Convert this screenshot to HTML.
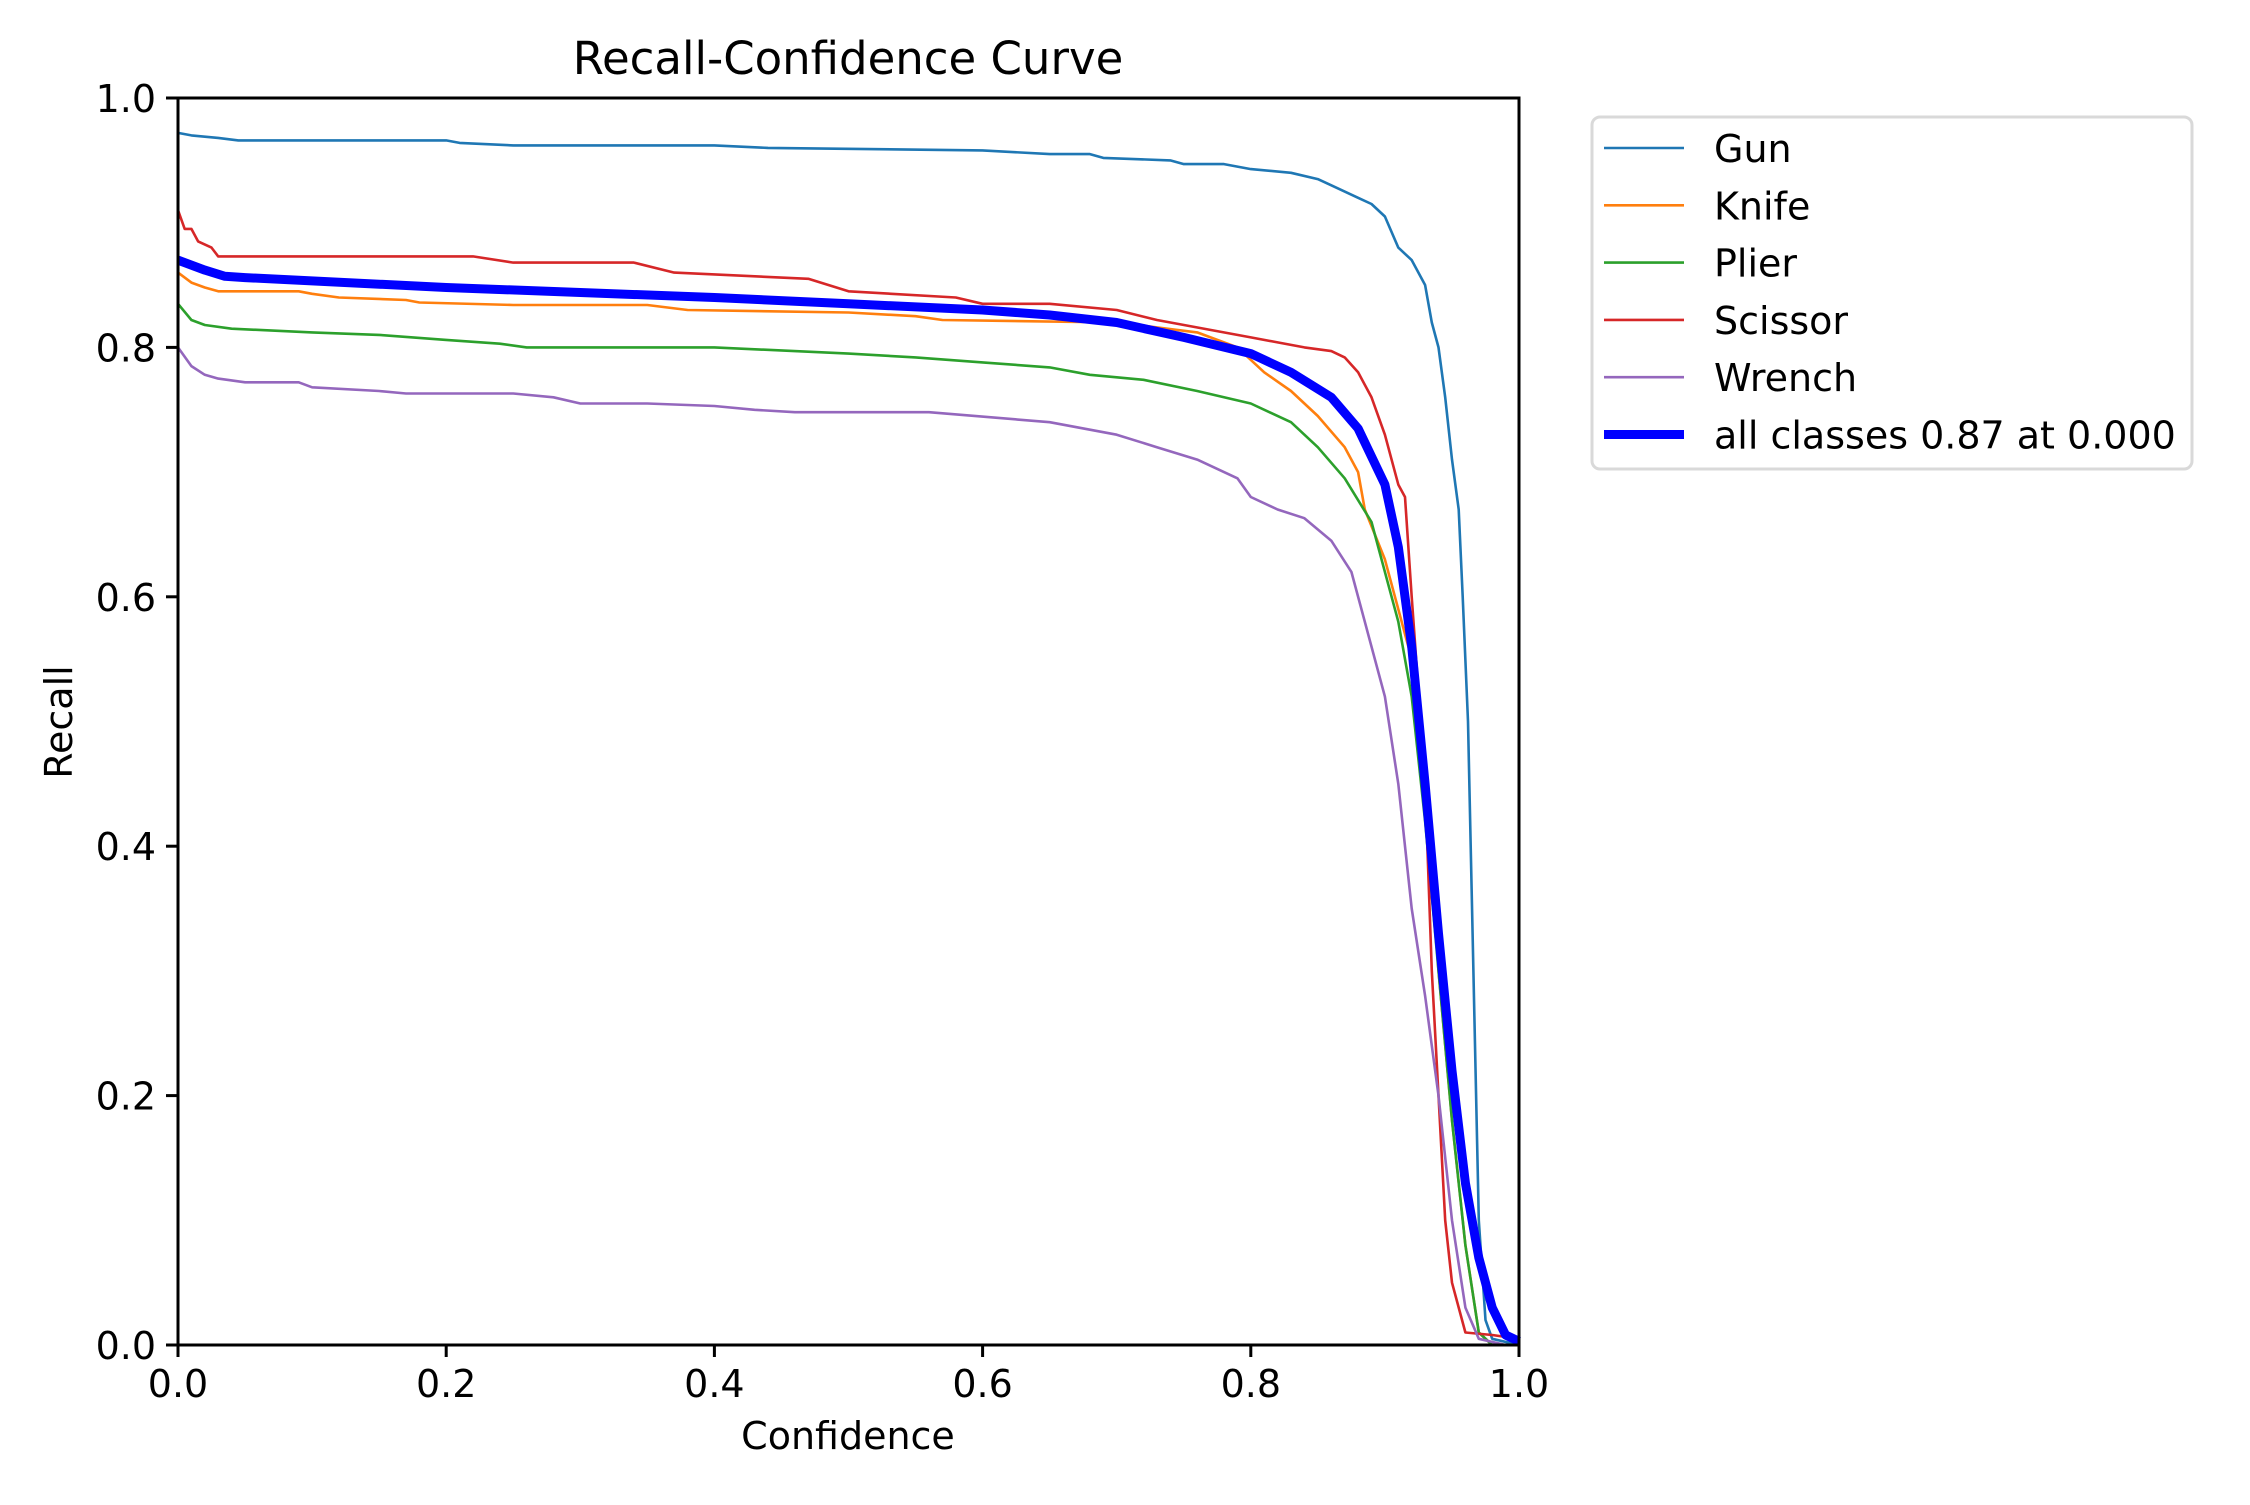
<!DOCTYPE html>
<html><head><meta charset="utf-8"><style>
body{margin:0;background:#fff}
svg text{font-family:"DejaVu Sans","Liberation Sans",sans-serif;fill:#000}
</style></head><body>
<svg id="chart" width="2250" height="1500" xmlns="http://www.w3.org/2000/svg">
<rect width="2250" height="1500" fill="#fff"/>
<text x="848" y="74" font-size="45" text-anchor="middle">Recall-Confidence Curve</text>
<g id="plot"></g>
<g id="axes"></g>
<text x="848" y="1449" font-size="38" text-anchor="middle">Confidence</text>
<text x="72" y="722" font-size="38" text-anchor="middle" transform="rotate(-90 72 722)">Recall</text>
<g id="legend"></g>
</svg>
<script>
const seriesNames=["Gun","Knife","Plier","Scissor","Wrench","all classes 0.87 at 0.000"];
const seriesColors=["#1f77b4","#ff7f0e","#2ca02c","#d62728","#9467bd","#0000ff"];
const xTicks=[0,0.2,0.4,0.6,0.8,1.0];
const yTicks=[0,0.2,0.4,0.6,0.8,1.0];
const gunData=[[0,0.972],[0.01,0.97],[0.03,0.968],[0.045,0.966],[0.2,0.966],[0.21,0.964],[0.25,0.962],[0.4,0.962],[0.44,0.96],[0.6,0.958],[0.65,0.955],[0.68,0.955],[0.69,0.952],[0.74,0.95],[0.75,0.947],[0.78,0.947],[0.8,0.943],[0.83,0.94],[0.85,0.935],[0.86,0.93],[0.88,0.92],[0.89,0.915],[0.9,0.905],[0.91,0.88],[0.92,0.87],[0.93,0.85],[0.935,0.82],[0.94,0.8],[0.945,0.76],[0.95,0.71],[0.955,0.67],[0.958,0.6],[0.962,0.5],[0.966,0.3],[0.97,0.1],[0.975,0.02],[0.98,0.005],[1,0]];
const knifeData=[[0,0.86],[0.01,0.852],[0.02,0.848],[0.03,0.845],[0.09,0.845],[0.1,0.843],[0.12,0.84],[0.17,0.838],[0.18,0.836],[0.25,0.834],[0.35,0.834],[0.38,0.83],[0.5,0.828],[0.55,0.825],[0.57,0.822],[0.7,0.82],[0.76,0.812],[0.79,0.8],[0.81,0.78],[0.83,0.765],[0.85,0.745],[0.87,0.72],[0.88,0.7],[0.885,0.67],[0.9,0.63],[0.92,0.55],[0.93,0.45],[0.94,0.3],[0.95,0.18],[0.96,0.08],[0.97,0.01],[0.98,0],[1,0]];
const plierData=[[0,0.835],[0.01,0.822],[0.02,0.818],[0.04,0.815],[0.1,0.812],[0.15,0.81],[0.2,0.806],[0.24,0.803],[0.26,0.8],[0.4,0.8],[0.5,0.795],[0.55,0.792],[0.6,0.788],[0.65,0.784],[0.68,0.778],[0.72,0.774],[0.76,0.765],[0.8,0.755],[0.83,0.74],[0.85,0.72],[0.87,0.695],[0.89,0.66],[0.9,0.62],[0.91,0.58],[0.92,0.52],[0.93,0.42],[0.94,0.3],[0.95,0.18],[0.96,0.08],[0.97,0.01],[0.98,0],[1,0]];
const scissorData=[[0,0.91],[0.005,0.895],[0.01,0.895],[0.015,0.885],[0.025,0.88],[0.03,0.873],[0.22,0.873],[0.25,0.868],[0.34,0.868],[0.37,0.86],[0.47,0.855],[0.5,0.845],[0.58,0.84],[0.6,0.835],[0.65,0.835],[0.7,0.83],[0.73,0.822],[0.8,0.808],[0.82,0.804],[0.84,0.8],[0.86,0.797],[0.87,0.792],[0.88,0.78],[0.89,0.76],[0.9,0.73],[0.91,0.69],[0.915,0.68],[0.92,0.6],[0.93,0.45],[0.935,0.3],[0.94,0.2],[0.945,0.1],[0.95,0.05],[0.96,0.01],[0.98,0.008],[1,0.005]];
const wrenchData=[[0,0.8],[0.01,0.785],[0.02,0.778],[0.03,0.775],[0.05,0.772],[0.09,0.772],[0.1,0.768],[0.15,0.765],[0.17,0.763],[0.25,0.763],[0.28,0.76],[0.3,0.755],[0.35,0.755],[0.4,0.753],[0.43,0.75],[0.46,0.748],[0.56,0.748],[0.65,0.74],[0.7,0.73],[0.73,0.72],[0.76,0.71],[0.79,0.695],[0.8,0.68],[0.82,0.67],[0.84,0.663],[0.86,0.645],[0.875,0.62],[0.885,0.58],[0.9,0.52],[0.91,0.45],[0.92,0.35],[0.93,0.28],[0.94,0.2],[0.95,0.1],[0.96,0.03],[0.97,0.005],[0.99,0],[1,0]];
const allData=[[0,0.87],[0.02,0.862],[0.035,0.857],[0.05,0.856],[0.2,0.848],[0.3,0.844],[0.4,0.84],[0.5,0.835],[0.6,0.83],[0.65,0.826],[0.7,0.82],[0.75,0.808],[0.8,0.795],[0.83,0.78],[0.86,0.76],[0.88,0.735],[0.9,0.69],[0.91,0.64],[0.92,0.56],[0.93,0.45],[0.94,0.33],[0.95,0.22],[0.96,0.13],[0.97,0.07],[0.98,0.03],[0.99,0.008],[1,0.003]];

const L=178,R=1519,T=98,B=1345;
const sx=v=>L+v*(R-L), sy=v=>B-v*(B-T);
const NS="http://www.w3.org/2000/svg";
function mk(tag,attrs,parent){const e=document.createElementNS(NS,tag);for(const k in attrs)e.setAttribute(k,attrs[k]);parent.appendChild(e);return e;}
const plot=document.getElementById('plot'),axes=document.getElementById('axes'),legend=document.getElementById('legend');
const allSeries=[gunData,knifeData,plierData,scissorData,wrenchData,allData];
allSeries.forEach((d,i)=>{
  const p=mk('path',{d:'M'+d.map(q=>sx(q[0]).toFixed(1)+','+sy(q[1]).toFixed(1)).join('L'),fill:'none',stroke:seriesColors[i],'stroke-width':i==5?9:2.6,'stroke-linejoin':'round'},plot);
  
  
});
const frame=mk('rect',{x:L,y:T,width:R-L,height:B-T,fill:'none',stroke:'#000','stroke-width':3},axes);


xTicks.forEach(v=>{
  const x=sx(v);
  const t=mk('line',{x1:x,x2:x,y1:B,y2:B+12,stroke:'#000','stroke-width':3},axes);
  
  
  const tx=mk('text',{x:x,y:B+52,'font-size':38,'text-anchor':'middle'},axes);
  tx.textContent=v.toFixed(1);
  
  
});
yTicks.forEach(v=>{
  const y=sy(v);
  const t=mk('line',{x1:L-12,x2:L,y1:y,y2:y,stroke:'#000','stroke-width':3},axes);
  
  
  const tx=mk('text',{x:L-22,y:y+14,'font-size':38,'text-anchor':'end'},axes);
  tx.textContent=v.toFixed(1);
  
  
});
const box=mk('rect',{x:1592,y:117,width:600,height:352,rx:8,fill:'#fff',stroke:'#d9d9d9','stroke-width':3},legend);


seriesNames.forEach((n,i)=>{
  const y=148+i*57.3;
  const ln=mk('line',{x1:1604,x2:1684,y1:y,y2:y,stroke:seriesColors[i],'stroke-width':i==5?9:2.6},legend);
  
  
  const tx=mk('text',{x:1714,y:y+14,'font-size':38},legend);
  tx.textContent=n;
  
  
});
</script>
</body></html>
